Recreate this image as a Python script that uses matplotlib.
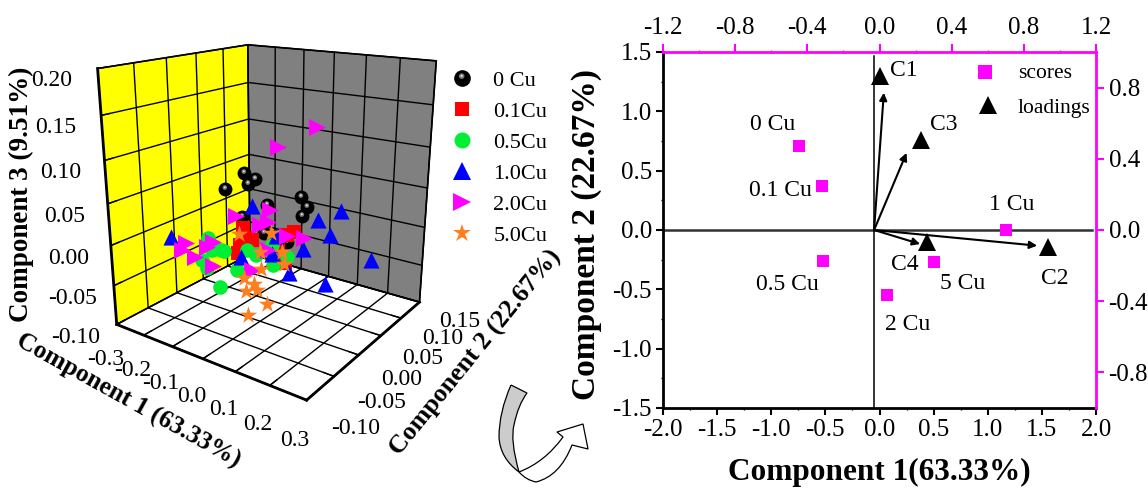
import numpy as np
import matplotlib
matplotlib.use("Agg")
import matplotlib.pyplot as plt
from matplotlib.lines import Line2D
from matplotlib.patches import PathPatch
from matplotlib.path import Path
from matplotlib.legend_handler import HandlerTuple
from matplotlib.ticker import MultipleLocator, FixedLocator

plt.rcParams['font.family'] = ['Liberation Serif', 'DejaVu Serif']
plt.rcParams['axes.unicode_minus'] = False

W, H = 1148, 490

# 3D scores (component 1, component 3), component 2 one value per series
blk_x = [-0.156,-0.120,-0.145,-0.227,-0.077,0.034,0.052,0.038,-0.168,-0.089,-0.011]
blk_z = [0.056,0.051,0.043,0.030,0.022,0.042,0.030,0.018,-0.003,-0.016,-0.020]
blk_y = 0.06
red_x = [-0.144,-0.126,-0.157,-0.115,-0.163,0.028,0.007,-0.001,-0.023]
red_z = [-0.012,-0.023,-0.036,-0.025,-0.048,0.000,-0.006,-0.044,-0.024]
red_y = 0.05
grn_x = [-0.174,-0.163,-0.131,-0.120,-0.200,-0.181,-0.043,-0.012,-0.077,-0.138,0.043,0.085,0.038]
grn_z = [-0.012,-0.026,-0.023,-0.023,-0.043,-0.052,-0.013,-0.016,-0.043,-0.072,-0.023,-0.008,0.001]
grn_y = 0.0
blu_x = [-0.381,-0.078,0.197,0.133,0.168,0.002,0.087,-0.118,-0.012,0.285,0.044,0.157]
blu_z = [-0.041,0.029,0.048,0.031,0.017,-0.001,-0.009,-0.041,-0.026,-0.001,-0.044,-0.044]
blu_y = 0.03
mag_x = [-0.300,-0.315,-0.267,-0.196,-0.219,-0.199,-0.114,-0.001,-0.033,-0.006,0.052,0.106,-0.006,-0.062,0.025,0.137]
mag_z = [-0.038,-0.049,-0.054,-0.026,-0.035,-0.059,0.016,0.034,0.012,0.019,0.007,0.010,-0.016,-0.048,0.111,0.140]
mag_y = 0.02
org_x = [-0.029,0.069,0.036,0.102,0.039,0.110,-0.015,0.017,-0.010,0.024,0.058,-0.003]
org_z = [0.015,0.026,0.000,0.007,-0.021,-0.006,-0.038,-0.042,-0.054,-0.048,-0.061,-0.083]
org_y = -0.02

x_ticks = [-0.3,-0.2,-0.1,0.0,0.1,0.2,0.3]
y_ticks = [-0.10,-0.05,0.00,0.05,0.10,0.15]
z_ticks = [-0.10,-0.05,0.00,0.05,0.10,0.15,0.20]

# biplot
score_names = ['0 Cu','0.1 Cu','1 Cu','0.5 Cu','5 Cu','2 Cu']
score_x = [-0.74,-0.53,1.17,-0.52,0.50,0.07]
score_y = [0.71,0.37,0.00,-0.26,-0.27,-0.55]
load_names = ['C1','C3','C4','C2']
load_x = [0.00,0.38,0.44,1.56]
load_y = [1.30,0.76,-0.10,-0.14]
tip_x = [0.04,0.25,0.375,1.456]
tip_y = [1.157,0.65,-0.118,-0.132]
origin_x = -0.05

fig = plt.figure(figsize=(W/100, H/100), dpi=100)

def fx(px, py):
    return px/W, 1 - py/H

# ---- left: 3D scatter
ax3 = fig.add_axes([21.19/W, 42.72/H, 490/W, 1], projection='3d', computed_zorder=False)
ax3.patch.set_alpha(0)
ax3.set_xlim(-.3, .3, view_margin=0)
ax3.set_ylim(-.1, .15, view_margin=0)
ax3.set_zlim(-.1, .2, view_margin=0)
ax3.view_init(elev=18.249, azim=-54.612)
ax3.set_proj_type('persp', focal_length=0.2760)
ax3.set_box_aspect((1, 0.9787, 1.1281), zoom=0.8229)

ax3.set_xticks(x_ticks)
ax3.set_yticks(y_ticks)
ax3.set_zticks(z_ticks)
ax3.set_xticklabels(['%.1f' % v for v in x_ticks], fontsize=17)
ax3.set_yticklabels(['%.2f' % v for v in y_ticks], fontsize=17, ha='left', va='bottom')
ax3.set_zticklabels(['%.2f' % v for v in z_ticks], fontsize=17)
ax3.tick_params(axis='x', pad=6)
ax3.tick_params(axis='y', pad=12)
ax3.tick_params(axis='z', pad=15)
ax3.zaxis.set_ticks_position('lower')

panes = {ax3.xaxis: 'yellow', ax3.yaxis: '#808080', ax3.zaxis: 'white'}
for axis, col in panes.items():
    axis.set_pane_color(col)
    axis.pane.set_edgecolor('black')
    axis.pane.set_linewidth(1.2)
    axis.line.set_linewidth(2)
    axis.line.set_color('black')
    axis._axinfo['grid'].update(color='black', linewidth=1.0, linestyle='-')
    axis._axinfo['tick'].update(inward_factor=0.0, outward_factor=0.6, linewidth={True: 1.0, False: 0.5})

shine1 = Path.make_compound_path(Path.circle((-0.05, 0.14), 0.17), Path([(0.5, 0.5)], [Path.MOVETO]))
shine2 = Path.make_compound_path(Path.circle((-0.05, 0.16), 0.07), Path([(0.5, 0.5)], [Path.MOVETO]))

def scat(xs, y, zs, **kw):
    ax3.scatter(xs, [y]*len(xs), zs, depthshade=False, linewidths=0, clip_on=False, **kw)

scat(blk_x, blk_y, blk_z, marker='o', s=100, c='black')
scat(blk_x, blk_y, blk_z, marker=shine1, s=100, c='#777777')
scat(blk_x, blk_y, blk_z, marker=shine2, s=100, c='#dddddd')
scat(red_x, red_y, red_z, marker='s', s=90, c='#ff0000')
scat(grn_x, grn_y, grn_z, marker='o', s=110, c='#00ee33')
scat(blu_x, blu_y, blu_z, marker='^', s=135, c='#0000ff')
scat(mag_x, mag_y, mag_z, marker='>', s=150, c='#ff00ff')
scat(org_x, org_y, org_z, marker='*', s=170, c='#ff7f20')

tx, ty = fx(128, 401)
fig.text(tx, ty, 'Component 1 (63.33%)', rotation=-29, fontsize=18.4, fontweight='bold', ha='center', va='center', rotation_mode='anchor')
tx, ty = fx(476, 353)
fig.text(tx, ty, 'Component 2 (22.67%)', rotation=51, fontsize=18.6, fontweight='bold', ha='center', va='center', rotation_mode='anchor')
tx, ty = fx(21, 194)
fig.text(tx, ty, 'Component 3 (9.51%)', rotation=90, fontsize=19.5, fontweight='bold', ha='center', va='center', rotation_mode='anchor')

def mk(m, c, ms):
    return Line2D([], [], marker=m, color=c, linestyle='none', markersize=ms, markeredgewidth=0)

sphere = (mk('o', 'black', 12), mk(shine1, '#777777', 12), mk(shine2, '#dddddd', 12))
handles = [sphere, mk('s', '#ff0000', 10), mk('o', '#00ee33', 11.5), mk('^', '#0000ff', 13),
           mk('>', '#ff00ff', 13), mk('*', '#ff7f20', 13.5)]
labels = ['0 Cu', '0.1Cu', '0.5Cu', '1.0Cu', '2.0Cu', '5.0Cu']
lx, ly = fx(449, 70)
fig.legend(handles, labels, loc='upper left', bbox_to_anchor=(lx, ly), frameon=False, fontsize=16,
           labelspacing=0.47, handlelength=1.2, handletextpad=0.8, borderpad=0, borderaxespad=0,
           handler_map={tuple: HandlerTuple(ndivide=1, pad=0)})

# ---- right: biplot
L, R, T, B = 663, 1096, 52, 408
ax = fig.add_axes([L/W, (H-B)/H, (R-L)/W, (B-T)/H])
ax.set_xlim(-2, 2)
ax.set_ylim(-1.5, 1.5)
ax.xaxis.set_major_locator(MultipleLocator(0.5))
ax.yaxis.set_major_locator(MultipleLocator(0.5))
ax.xaxis.set_minor_locator(MultipleLocator(0.25))
ax.yaxis.set_minor_locator(MultipleLocator(0.25))
ax.xaxis.set_major_formatter(lambda v, _: '%.1f' % v)
ax.yaxis.set_major_formatter(lambda v, _: '%.1f' % v)
ax.tick_params(which='major', direction='out', length=5, width=1.5, labelsize=18, pad=3)
ax.tick_params(which='minor', direction='out', length=1.5, width=1)
for s in ('top', 'right'):
    ax.spines[s].set_visible(False)
for s in ('left', 'bottom'):
    ax.spines[s].set_linewidth(2)

axt = ax.twiny()
axt.set_xlim(-1.2, 1.2)
axt.xaxis.set_major_locator(MultipleLocator(0.4))
axt.xaxis.set_minor_locator(MultipleLocator(0.2))
axt.xaxis.set_major_formatter(lambda v, _: '%.1f' % v)
axt.tick_params(which='major', direction='out', length=6, width=1.5, color='#ff00ff', labelsize=18, pad=3)
axt.tick_params(which='minor', direction='out', length=1.5, width=1, color='#ff00ff')
axr = ax.twinx()
axr.set_ylim(-1, 1)
axr.yaxis.set_major_locator(FixedLocator([-0.8, -0.4, 0.0, 0.4, 0.8]))
axr.yaxis.set_major_formatter(lambda v, _: '%.1f' % v)
axr.tick_params(which='major', direction='out', length=6, width=1.5, color='#ff00ff', labelsize=18, pad=3)
for a in (axt, axr):
    for s in a.spines.values():
        s.set_visible(False)
axt.spines['top'].set_visible(True)
axt.spines['top'].set_color('#ff00ff')
axt.spines['top'].set_linewidth(2)
axr.spines['right'].set_visible(True)
axr.spines['right'].set_color('#ff00ff')
axr.spines['right'].set_linewidth(2)

ax.plot([-2, 1.96], [0, 0], color='#333333', lw=1.8, zorder=1)
ax.plot([origin_x, origin_x], [-1.5, 1.47], color='black', lw=1.1, zorder=1)
for tx_, ty_ in zip(tip_x, tip_y):
    ax.annotate('', xy=(tx_, ty_), xytext=(origin_x, 0),
                arrowprops=dict(arrowstyle='-|>', color='black', lw=1.5, shrinkA=0, shrinkB=0, mutation_scale=11))
ax.plot(score_x, score_y, linestyle='none', marker='s', ms=9, color='#ff00ff', mew=0, zorder=3)
ax.plot(load_x, load_y, linestyle='none', marker='^', ms=12.5, color='black', mew=0, zorder=3)

name_pos = {'0 Cu': (773, 124), '0.1 Cu': (780, 190), '1 Cu': (1012, 204), '0.5 Cu': (787, 284),
            '5 Cu': (963, 283), '2 Cu': (908, 325), 'C1': (904, 71), 'C3': (944, 124),
            'C4': (905, 264), 'C2': (1055, 278)}
for name in score_names + load_names:
    tx, ty = fx(*name_pos[name])
    fig.text(tx, ty, name, fontsize=17, ha='center', va='center')

# small legend inside the biplot
sx, sy = ax.transAxes.inverted().transform(fig.transFigure.transform(fx(985, 72)))
ax.plot([sx], [sy], transform=ax.transAxes, marker='s', ms=10, color='#ff00ff', mew=0, linestyle='none')
sx, sy = ax.transAxes.inverted().transform(fig.transFigure.transform(fx(988, 105)))
ax.plot([sx], [sy], transform=ax.transAxes, marker='^', ms=12.5, color='black', mew=0, linestyle='none')
tx, ty = fx(1018, 73)
fig.text(tx, ty, 'scores', fontsize=15.5, ha='left', va='center')
tx, ty = fx(1018, 109)
fig.text(tx, ty, 'loadings', fontsize=15.5, ha='left', va='center')

tx, ty = fx(879, 472)
fig.text(tx, ty, 'Component 1(63.33%)', fontsize=22.5, fontweight='bold', ha='center', va='center')
tx, ty = fx(587, 234)
fig.text(tx, ty, 'Component 2 (22.67%)', fontsize=24, fontweight='bold', rotation=90, ha='center', va='center')

# ---- curved arrow between the panels
def shape(pts, codes, fc):
    v = [fx(*p) for p in pts]
    fig.add_artist(PathPatch(Path(v, codes), facecolor=fc, edgecolor='black', lw=0.9, transform=fig.transFigure))

M, C, LN, CL = Path.MOVETO, Path.CURVE3, Path.LINETO, Path.CLOSEPOLY
shape([(519, 472), (545, 462), (563, 437), (557, 432), (583, 424), (588, 449), (572, 445),
       (560, 476), (536, 482), (526, 480), (519, 472), (519, 472)],
      [M, C, C, LN, LN, LN, LN, C, C, C, C, CL], 'white')
shape([(511, 385), (499, 412), (499, 437), (500, 458), (519, 472), (510, 440), (514, 425), (518, 405), (527, 393), (527, 393), (511, 385)],
      [M, C, C, C, C, C, C, C, C, LN, LN], '#cccccc')

fig.savefig('out.png', dpi=100)
